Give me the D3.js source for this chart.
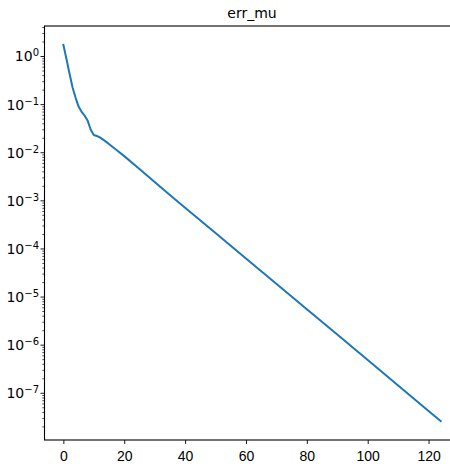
<!DOCTYPE html>
<html>
<head>
<meta charset="utf-8">
<script src="https://cdn.jsdelivr.net/npm/d3@7"></script>
<style>
  body { margin: 0; background: #fff; }
  svg { display: block; font-family: "DejaVu Sans", sans-serif; }
</style>
</head>
<body>
<svg class="chart" width="450" height="469"></svg>
<script>
// iteration numbers and error values
var iters = [0, 1, 2, 3, 4, 5, 6, 7, 8, 9, 10, 11, 12, 14, 16, 18, 20, 25, 30, 35, 40, 50, 60, 68, 80, 90, 101, 110, 120, 124];
var errMu = [1.75, 0.9, 0.45, 0.23, 0.14, 0.091, 0.071, 0.059, 0.046, 0.030, 0.0234, 0.0223, 0.0209,
             0.0170, 0.0135, 0.0107, 0.0085, 0.0046, 0.00245, 0.00132, 0.00072, 0.000214, 6.3e-5, 2.4e-5,
             5.6e-6, 1.66e-6, 4.37e-7, 1.45e-7, 4.27e-8, 2.63e-8];
var xTicks = [0, 20, 40, 60, 80, 100, 120];
var yExps = [0, -1, -2, -3, -4, -5, -6, -7];
var title = "err_mu";

var margin = {top: 26, left: 44.5, bottom: 440, right: 459.6};

var svg = d3.select(".chart");

// matplotlib style 5% padding
var xpad = (d3.max(iters) - d3.min(iters)) * 0.05;
var x = d3.scaleLinear()
    .domain([d3.min(iters) - xpad, d3.max(iters) + xpad])
    .range([margin.left, margin.right]);

var lmin = Math.log10(d3.min(errMu)), lmax = Math.log10(d3.max(errMu));
var lpad = (lmax - lmin) * 0.05;
var y = d3.scaleLog()
    .domain([Math.pow(10, lmax + lpad), Math.pow(10, lmin - lpad)])
    .range([margin.top, margin.bottom]);

// line
var line = d3.line()
    .x(function(d, i) { return x(iters[i]); })
    .y(function(d) { return y(d); });

svg.append("path")
    .datum(errMu)
    .attr("fill", "none")
    .attr("stroke", "#1f77b4")
    .attr("stroke-width", 2)
    .attr("stroke-linejoin", "round")
    .attr("stroke-linecap", "square")
    .attr("d", line);

// x axis
var xAxis = d3.axisBottom(x)
    .tickValues(xTicks)
    .tickSize(4)
    .tickPadding(4)
    .tickFormat(d3.format("d"));

var gx = svg.append("g")
    .attr("transform", "translate(0," + margin.bottom + ")")
    .call(xAxis);
gx.select(".domain").remove();
gx.selectAll(".tick line").attr("stroke", "#000").attr("stroke-width", 0.9);
gx.selectAll(".tick text")
    .attr("fill", "#000")
    .style("font-size", "14px")
    .attr("dy", "0.95em");

// y axis minor ticks
var minor = [];
for (var e = -9; e <= 1; e++) {
  for (var m = 2; m <= 9; m++) {
    var v = m * Math.pow(10, e);
    if (v <= y.domain()[0] && v >= y.domain()[1]) minor.push(v);
  }
}
svg.append("g").selectAll("line")
    .data(minor)
    .enter().append("line")
    .attr("x1", margin.left - 2.2)
    .attr("x2", margin.left)
    .attr("y1", function(d) { return y(d); })
    .attr("y2", function(d) { return y(d); })
    .attr("stroke", "#000")
    .attr("stroke-width", 0.7);

// y axis major ticks and labels
var yt = svg.append("g").selectAll("g")
    .data(yExps)
    .enter().append("g")
    .attr("transform", function(d) { return "translate(0," + y(Math.pow(10, d)) + ")"; });

yt.append("line")
    .attr("x1", margin.left - 4)
    .attr("x2", margin.left)
    .attr("stroke", "#000")
    .attr("stroke-width", 0.9);

var lbl = yt.append("text")
    .attr("x", margin.left - 5.5)
    .attr("y", 0)
    .attr("dy", "0.35em")
    .attr("text-anchor", "end")
    .attr("fill", "#000")
    .style("font-size", "14px");
lbl.append("tspan").text("10");
lbl.append("tspan")
    .attr("dy", "-0.5em")
    .style("font-size", "10px")
    .text(function(d) { return d == 0 ? "0" : "\u2212" + Math.abs(d); });

// frame
svg.append("rect")
    .attr("x", margin.left)
    .attr("y", margin.top)
    .attr("width", margin.right - margin.left)
    .attr("height", margin.bottom - margin.top)
    .attr("fill", "none")
    .attr("stroke", "#000")
    .attr("stroke-width", 1.1);

// title
svg.append("text")
    .attr("x", (margin.left + margin.right) / 2)
    .attr("y", 18)
    .attr("text-anchor", "middle")
    .attr("fill", "#000")
    .style("font-size", "14px")
    .text(title);
</script>
</body>
</html>
